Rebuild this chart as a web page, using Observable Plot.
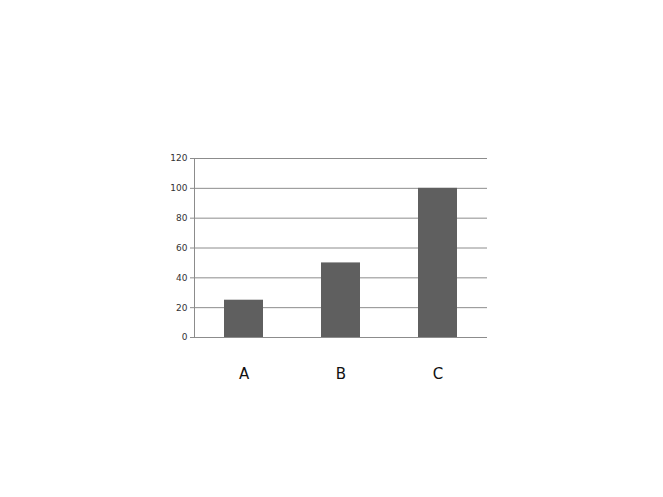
<!DOCTYPE html>
<html><head><meta charset="utf-8">
<script src="https://cdn.jsdelivr.net/npm/d3@7"></script>
<script src="https://cdn.jsdelivr.net/npm/@observablehq/plot@0.6"></script>
<style>body{margin:0;background:#fff}</style>
</head><body><div id="chart"></div>
<script>
const categories = ["A", "B", "C"];
const values = [25, 50, 100];
const yTicks = [0, 20, 40, 60, 80, 100, 120];
const data = categories.map((c, i) => ({cat: c, val: values[i]}));
const chart = Plot.plot({
  width: 663, height: 497,
  marginLeft: 194, marginRight: 176, marginTop: 158, marginBottom: 160,
  style: {fontFamily: "'DejaVu Sans', sans-serif", background: "#fff"},
  x: {domain: categories, paddingInner: 0.6, paddingOuter: 0.3, label: null},
  y: {domain: [0, 120], ticks: yTicks, label: null},
  marks: [
    Plot.gridY(yTicks, {stroke: "#8c8c8c", strokeOpacity: 1, strokeWidth: 1}),
    Plot.frame({anchor: "left", stroke: "#8c8c8c"}),
    Plot.axisY({ticks: yTicks, tickSize: 4, tickPadding: 3, stroke: "#8c8c8c", fontSize: 9, fill: "#333", label: null}),
    Plot.barY(data, {x: "cat", y: "val", fill: "#5f5f5f"}),
    Plot.axisX({tickSize: 0, tickPadding: 31, fontSize: 15, fill: "#111", label: null})
  ]
});
document.getElementById("chart").appendChild(chart);
</script>
</body></html>
